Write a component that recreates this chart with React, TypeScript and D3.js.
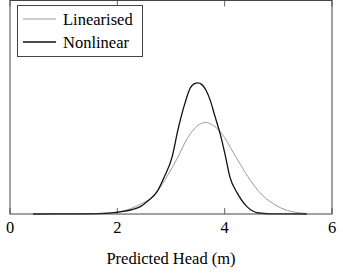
import { useEffect, useRef } from 'react'
import * as d3 from 'd3'

// values (x in metres, y in density units)
const linX = [0.43, 1.3, 1.81, 2.18, 2.48, 2.66, 2.81, 2.96, 3.13, 3.3, 3.42, 3.54, 3.65, 3.76, 3.88, 4.0, 4.1, 4.29, 4.48, 4.64, 4.91, 5.17, 5.46, 5.53]
const linY = [0, 0.002, 0.01, 0.04, 0.11, 0.17, 0.27, 0.4, 0.56, 0.74, 0.83, 0.885, 0.9, 0.88, 0.83, 0.75, 0.66, 0.49, 0.33, 0.22, 0.1, 0.035, 0.008, 0.005]

const nonX = [0.43, 1.2, 1.68, 2.05, 2.42, 2.55, 2.74, 2.87, 3.02, 3.13, 3.26, 3.36, 3.43, 3.5, 3.57, 3.65, 3.73, 3.82, 3.92, 4.01, 4.1, 4.23, 4.42, 4.63, 4.85, 5.53]
const nonY = [0, 0.001, 0.003, 0.02, 0.07, 0.12, 0.22, 0.36, 0.56, 0.83, 1.09, 1.24, 1.28, 1.29, 1.275, 1.22, 1.12, 0.96, 0.78, 0.58, 0.36, 0.21, 0.07, 0.01, 0.002, 0]

const xTicks = [0, 2, 4, 6]
const seriesNames = ['Linearised', 'Nonlinear']
const seriesColors = ['#9a9a9a', '#111']
const serif = 'Liberation Serif, DejaVu Serif, serif'

function App() {
  const ref = useRef(null)

  useEffect(() => {
    const svg = d3.select(ref.current)
    svg.selectAll('*').remove()

    const left = 10
    const right = 332
    const top = 0.5
    const bottom = 214

    const x = d3.scaleLinear().domain([0, 6]).range([left, right])
    const y = d3.scaleLinear().domain([0, 2.1]).range([bottom, top])

    const line = d3
      .line()
      .x((d) => x(d[0]))
      .y((d) => y(d[1]))
      .curve(d3.curveMonotoneX)

    const lin = linX.map((v, i) => [v, linY[i]])
    const non = nonX.map((v, i) => [v, nonY[i]])

    // ticks (inward, top and bottom)
    const g = svg.append('g')
    g.selectAll('line.tb')
      .data(xTicks)
      .join('line')
      .attr('class', 'tb')
      .attr('x1', (d) => x(d))
      .attr('x2', (d) => x(d))
      .attr('y1', bottom)
      .attr('y2', bottom - 6)
      .attr('stroke', '#666')
    g.selectAll('line.tt')
      .data(xTicks)
      .join('line')
      .attr('class', 'tt')
      .attr('x1', (d) => x(d))
      .attr('x2', (d) => x(d))
      .attr('y1', top)
      .attr('y2', top + 6)
      .attr('stroke', '#666')

    svg.append('path').datum(lin).attr('d', line).attr('fill', 'none').attr('stroke', seriesColors[0]).attr('stroke-width', 1)
    svg.append('path').datum(non).attr('d', line).attr('fill', 'none').attr('stroke', seriesColors[1]).attr('stroke-width', 1.3)

    // frame
    svg
      .append('rect')
      .attr('x', left)
      .attr('y', top)
      .attr('width', right - left)
      .attr('height', bottom - top)
      .attr('fill', 'none')
      .attr('stroke', '#444')
      .attr('stroke-width', 1)

    svg
      .append('g')
      .selectAll('text')
      .data(xTicks)
      .join('text')
      .attr('x', (d) => x(d))
      .attr('y', 233)
      .attr('text-anchor', 'middle')
      .style('font-family', serif)
      .style('font-size', '16.5px')
      .text((d) => d)

    svg
      .append('text')
      .attr('x', (left + right) / 2)
      .attr('y', 264)
      .attr('text-anchor', 'middle')
      .style('font-family', serif)
      .style('font-size', '16.5px')
      .text('Predicted Head (m)')

    // legend
    const lg = svg.append('g')
    lg.append('rect')
      .attr('x', 17.5)
      .attr('y', 5.5)
      .attr('width', 125)
      .attr('height', 51)
      .attr('fill', 'white')
      .attr('stroke', '#444')
    seriesNames.forEach((name, i) => {
      const ly = 19 + i * 23
      lg.append('line')
        .attr('x1', 23)
        .attr('x2', 56)
        .attr('y1', ly)
        .attr('y2', ly)
        .attr('stroke', seriesColors[i])
        .attr('stroke-width', i === 0 ? 1 : 1.3)
      lg.append('text')
        .attr('x', 63)
        .attr('y', ly + 6)
        .style('font-family', serif)
        .style('font-size', '16.5px')
        .text(name)
    })
  }, [])

  return (
    <div style={{ position: 'absolute', left: 0, top: 0 }}>
      <svg ref={ref} width={343} height={273} style={{ display: 'block', background: 'white' }} />
    </div>
  )
}

export default App
